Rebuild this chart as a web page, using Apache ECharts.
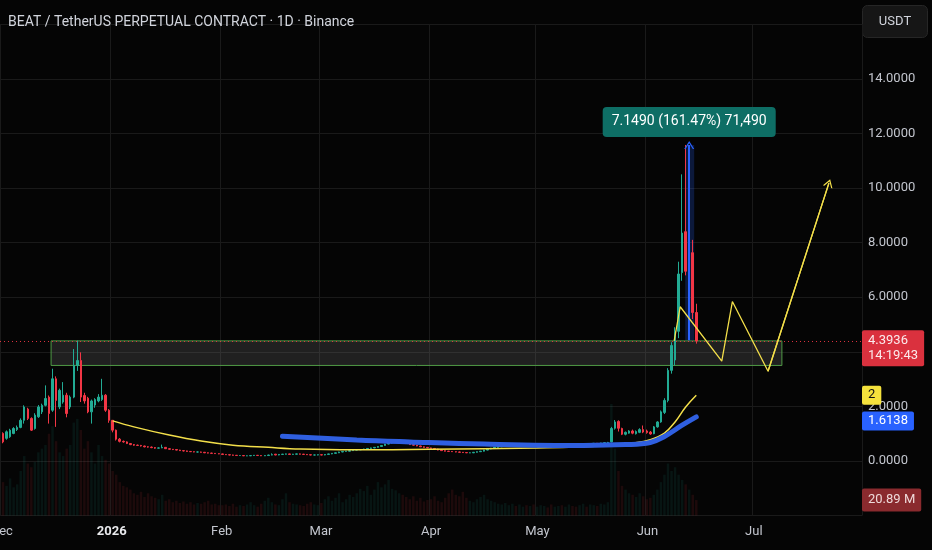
<!DOCTYPE html>
<html><head><meta charset="utf-8">
<script src="https://cdn.jsdelivr.net/npm/echarts@6/dist/echarts.min.js"></script>
<style>html,body{margin:0;padding:0;background:#050505;}#c{width:932px;height:550px;}</style>
</head><body><div id="c"></div>
<script>
// ---------- DATA ----------
const startDate = '2025-12-01';          // first daily candle
const axisDays = 243;                    // 2025-12-01 .. 2026-07-31 shown on the time scale
// daily candles [open, close, low, high]
const candles = [
 // Dec
 [1.01,0.70,0.65,1.05],[0.83,1.07,0.78,1.12],[0.89,1.13,0.85,1.18],[1.01,1.19,0.98,1.24],[1.15,1.23,1.10,1.30],
 [1.23,1.49,1.20,1.56],[1.49,1.98,1.37,2.04],[1.90,1.56,1.50,1.95],[1.56,1.13,1.10,1.60],[1.19,1.68,1.15,1.75],
 [1.62,1.98,1.58,2.05],[1.80,2.04,1.72,2.10],[2.04,2.29,2.00,2.77],[2.34,1.74,1.37,2.40],[1.86,3.01,1.80,3.38],
 [3.01,2.22,1.25,3.10],[1.98,2.59,1.90,2.65],[2.16,2.41,2.10,2.89],[2.41,1.74,1.60,2.50],[1.98,2.34,1.90,2.40],
 [2.34,3.50,2.30,4.10],[3.50,3.68,3.30,4.41],[3.68,2.34,2.16,3.98],[2.40,2.20,2.10,2.50],[2.30,1.80,1.75,2.35],
 [1.80,2.20,1.37,2.25],[2.05,2.25,1.95,2.30],[2.20,2.34,2.15,2.45],[2.25,2.41,2.20,3.01],[2.41,1.86,1.80,2.45],
 [1.86,1.49,1.40,1.90],
 // Jan
 [1.49,1.13,1.05,1.50],[1.13,0.80,0.75,1.15],[0.80,0.72,0.68,0.84],[0.72,0.70,0.67,0.75],[0.70,0.64,0.62,0.72],
 [0.64,0.60,0.58,0.66],[0.60,0.58,0.56,0.62],[0.58,0.57,0.55,0.60],[0.57,0.55,0.53,0.59],[0.55,0.52,0.50,0.56],
 [0.52,0.51,0.49,0.54],[0.51,0.49,0.47,0.53],[0.49,0.47,0.45,0.51],[0.47,0.48,0.46,0.50],[0.48,0.50,0.47,0.60],
 [0.50,0.45,0.44,0.51],[0.45,0.43,0.42,0.47],[0.43,0.42,0.40,0.44],[0.42,0.40,0.39,0.43],[0.40,0.38,0.37,0.41],
 [0.38,0.37,0.35,0.39],[0.37,0.35,0.34,0.38],[0.35,0.34,0.33,0.36],[0.34,0.33,0.32,0.35],[0.33,0.33,0.31,0.35],
 [0.33,0.32,0.31,0.34],[0.32,0.30,0.29,0.33],[0.30,0.29,0.28,0.31],[0.29,0.28,0.27,0.30],[0.28,0.27,0.26,0.29],
 [0.27,0.26,0.25,0.28],
 // Feb
 [0.26,0.24,0.23,0.27],[0.24,0.23,0.22,0.25],[0.23,0.22,0.21,0.24],[0.22,0.21,0.20,0.23],[0.21,0.20,0.19,0.22],
 [0.20,0.20,0.19,0.21],[0.20,0.19,0.18,0.21],[0.19,0.19,0.18,0.20],[0.19,0.20,0.18,0.21],[0.20,0.21,0.19,0.22],
 [0.21,0.20,0.19,0.22],[0.20,0.19,0.18,0.21],[0.19,0.20,0.18,0.21],[0.20,0.22,0.19,0.23],[0.22,0.23,0.21,0.28],
 [0.25,0.22,0.21,0.26],[0.22,0.24,0.21,0.25],[0.24,0.25,0.23,0.26],[0.25,0.26,0.24,0.27],[0.26,0.24,0.23,0.27],
 [0.24,0.25,0.23,0.26],[0.25,0.26,0.24,0.27],[0.26,0.25,0.24,0.27],[0.25,0.24,0.23,0.26],[0.24,0.23,0.22,0.25],
 [0.23,0.22,0.21,0.24],[0.22,0.22,0.21,0.23],[0.22,0.23,0.21,0.24],
 // Mar
 [0.23,0.22,0.21,0.24],[0.22,0.24,0.21,0.25],[0.24,0.26,0.23,0.27],[0.26,0.28,0.25,0.29],[0.28,0.30,0.27,0.31],
 [0.30,0.33,0.29,0.34],[0.33,0.35,0.32,0.36],[0.35,0.36,0.34,0.37],[0.36,0.38,0.35,0.39],[0.38,0.40,0.37,0.41],
 [0.40,0.41,0.39,0.42],[0.41,0.42,0.40,0.43],[0.42,0.44,0.41,0.45],[0.44,0.46,0.43,0.47],[0.46,0.48,0.45,0.49],
 [0.48,0.50,0.47,0.51],[0.50,0.53,0.49,0.54],[0.53,0.57,0.52,0.58],[0.57,0.62,0.56,0.63],[0.62,0.66,0.61,0.67],
 [0.66,0.68,0.64,0.70],[0.68,0.70,0.66,0.72],[0.70,0.72,0.68,0.74],[0.72,0.66,0.65,0.73],[0.66,0.64,0.62,0.67],
 [0.64,0.60,0.59,0.65],[0.60,0.58,0.57,0.61],[0.58,0.55,0.54,0.59],[0.55,0.52,0.51,0.56],[0.52,0.50,0.49,0.53],
 [0.50,0.48,0.47,0.51],
 // Apr
 [0.48,0.46,0.45,0.49],[0.46,0.44,0.43,0.47],[0.44,0.40,0.39,0.45],[0.40,0.38,0.37,0.41],[0.38,0.36,0.35,0.39],
 [0.36,0.35,0.34,0.37],[0.35,0.34,0.33,0.36],[0.34,0.33,0.32,0.35],[0.33,0.32,0.31,0.34],[0.32,0.31,0.30,0.33],
 [0.31,0.30,0.29,0.32],[0.30,0.30,0.29,0.31],[0.30,0.32,0.29,0.33],[0.32,0.34,0.31,0.35],[0.34,0.36,0.33,0.37],
 [0.36,0.40,0.35,0.41],[0.40,0.44,0.39,0.45],[0.44,0.47,0.43,0.48],[0.47,0.50,0.46,0.51],[0.50,0.52,0.49,0.53],
 [0.52,0.54,0.51,0.55],[0.54,0.55,0.53,0.56],[0.55,0.56,0.54,0.57],[0.56,0.58,0.55,0.59],[0.58,0.57,0.56,0.59],
 [0.57,0.58,0.56,0.59],[0.58,0.59,0.57,0.60],[0.59,0.58,0.57,0.60],[0.58,0.59,0.57,0.60],[0.59,0.58,0.57,0.60],
 // May
 [0.58,0.58,0.57,0.59],[0.58,0.59,0.57,0.60],[0.59,0.60,0.58,0.61],[0.60,0.59,0.58,0.61],[0.59,0.58,0.57,0.60],
 [0.58,0.60,0.57,0.61],[0.60,0.61,0.59,0.62],[0.61,0.60,0.59,0.62],[0.60,0.61,0.59,0.62],[0.61,0.62,0.60,0.63],
 [0.62,0.61,0.60,0.63],[0.61,0.60,0.59,0.62],[0.60,0.62,0.59,0.63],[0.62,0.63,0.61,0.64],[0.63,0.62,0.61,0.64],
 [0.62,0.64,0.61,0.65],[0.64,0.65,0.63,0.66],[0.65,0.64,0.63,0.66],[0.64,0.66,0.63,0.67],[0.66,0.67,0.65,0.68],
 [0.67,0.68,0.66,0.70],[0.70,1.19,0.68,1.25],[1.20,1.43,1.15,1.50],[1.45,1.20,1.08,1.49],[1.19,0.98,0.95,1.22],
 [0.98,1.05,0.94,1.08],[1.02,1.10,1.00,1.13],[1.10,1.02,0.98,1.15],[1.00,1.08,0.97,1.12],[1.05,1.15,1.02,1.20],
 [1.15,1.06,1.02,1.30],
 // Jun
 [1.10,1.04,1.00,1.15],[1.06,0.99,0.96,1.10],[1.00,1.25,0.98,1.28],[1.25,1.43,1.22,1.46],[1.43,1.80,1.40,1.85],
 [1.78,2.22,1.72,2.30],[2.22,3.32,2.15,3.40],[3.32,4.23,3.20,4.35],[3.70,4.75,3.50,4.90],[4.75,6.85,4.50,7.30],
 [6.90,8.35,6.60,10.50],[8.40,6.95,6.80,11.5765],[6.95,7.70,6.70,8.20],[7.63,5.44,5.20,8.10],[5.44,4.3936,4.30,5.76]
];
// daily volume, millions
const volumes = [
 45,40,50,38,42,60,80,70,65,72,85,90,95,110,120,100,85,80,90,95,125,130,115,90,100,85,70,95,80,75,70,
 60,55,45,40,38,35,30,28,32,25,30,26,24,22,28,20,22,18,20,17,19,16,18,15,17,16,18,20,15,16,14,
 14,15,13,16,12,14,13,15,18,14,12,16,20,24,18,15,14,22,30,18,16,15,14,13,16,18,15,14,
 17,22,26,20,24,30,18,22,28,25,30,36,33,40,28,35,45,38,42,48,36,34,30,28,25,22,26,20,24,19,21,
 22,26,20,18,24,30,35,28,26,32,24,20,18,22,25,28,22,20,18,16,15,17,14,16,13,15,12,14,13,15,
 12,14,13,11,15,12,13,14,12,15,13,12,14,16,12,15,14,13,16,15,18,
 150,90,60,40,35,30,28,25,30,26,22,24,28,35,45,55,70,60,65,55,48,42,35,28,20.89
];
const yellowMA = [
 ['2026-01-01',1.47],['2026-01-07',1.25],['2026-01-17',0.95],['2026-01-26',0.73],['2026-02-04',0.58],
 ['2026-02-14',0.50],['2026-02-23',0.44],['2026-03-10',0.41],['2026-04-01',0.43],['2026-05-01',0.48],
 ['2026-05-19',0.55],['2026-05-28',0.66],['2026-06-02',0.78],['2026-06-06',1.02],['2026-06-09',1.43],
 ['2026-06-12',1.98],['2026-06-15',2.41]
];
const blueMA = [
 ['2026-02-18',0.91],['2026-03-11',0.77],['2026-03-26',0.70],['2026-04-16',0.62],['2026-05-14',0.57],
 ['2026-05-26',0.60],['2026-06-02',0.68],['2026-06-06',0.90],['2026-06-11',1.31],['2026-06-15',1.6138]
];
const projection = [
 ['2026-06-08 18:00',4.40],['2026-06-10 11:00',5.65],['2026-06-22 05:00',3.66],
 ['2026-06-25 05:00',5.84],['2026-07-05 07:00',3.29],['2026-07-22 12:00',10.18]
];
const zone = {from:'2025-12-14 14:00', to:'2026-07-09 05:00', top:4.40, bottom:3.50};
const priceRange = {from:'2026-06-11 21:00', to:'2026-06-14 10:00', at:'2026-06-13', base:4.4275, top:11.5765};
const monthNames = ['Jan','Feb','Mar','Apr','May','Jun','Jul','Aug','Sep','Oct','Nov','Dec'];
const priceLabels = [0,2,6,8,10,12,14];
const yellowTag = '2';
const countdown = '14:19:43';
const volumeTag = '20.89 M';
const titleText = 'BEAT / TetherUS PERPETUAL CONTRACT · 1D · Binance';

// ---------- BUILD ----------
const DAY = 86400000;
const T = s => echarts.time.parse(s).getTime();
const t0 = T(startDate);
const pad2 = n => (n < 10 ? '0' : '') + n;
const dayKeys = [];
for (let i = 0; i < axisDays; i++) {
  const d = new Date(t0 + i * DAY + 3 * 3600000);
  dayKeys.push(d.getFullYear() + '-' + pad2(d.getMonth() + 1) + '-' + pad2(d.getDate()));
}
const UP = '#22ab94', DOWN = '#f23645';
const candleData = candles.map((r, i) => [t0 + i * DAY, r[0], r[1], r[2], r[3]]);
const volData = volumes.map((v, i) => ({
  value: [t0 + i * DAY, v * 1e6],
  itemStyle: {color: candles[i][1] >= candles[i][0] ? 'rgba(34,171,148,0.1)' : 'rgba(242,54,69,0.1)'}
}));
const lastClose = candles[candles.length - 1][1];
const lastVol = volumes[volumes.length - 1];
const diff = priceRange.top - priceRange.base;
const rangeText = diff.toFixed(4) + ' (' + (diff / priceRange.base * 100).toFixed(2) + '%) ' +
  Math.round(diff * 10000).toLocaleString('en-US');
const chevron = 'path://M0,10 L5,0 L10,10 L8.6,10 L5,2.8 L1.4,10 Z';
const FONT = 'Roboto';
const CLEAR = 'rgba(0,0,0,0)';
const isMonthStart = key => key.slice(8) === '01';
const tagLabel = (bg, fg, extra) => Object.assign({
  show: true, position: 'end', distance: 0, color: fg, backgroundColor: bg,
  padding: [3, 6], fontSize: 13, fontFamily: FONT, borderRadius: 2
}, extra || {});

const chart = echarts.init(document.getElementById('c'), null, {renderer: 'canvas'});
chart.setOption({
  animation: false,
  backgroundColor: '#050505',
  textStyle: {fontFamily: FONT},
  title: {text: titleText, left: 8, top: 15, padding: 0,
    textStyle: {color: '#d1d4dc', fontSize: 14, fontWeight: 'normal', fontFamily: FONT}},
  grid: {left: 0, right: 70, top: 24.2, bottom: 34.4, containLabel: false, outerBoundsMode: 'none'},
  xAxis: [{
    type: 'time', min: t0 - DAY / 2, max: t0 + (axisDays - 0.5) * DAY,
    axisLine: {show: false}, axisTick: {show: false}, axisLabel: {show: false}, splitLine: {show: false}
  }, {
    type: 'category', data: dayKeys, position: 'bottom', boundaryGap: true,
    axisLine: {show: false}, axisTick: {show: false},
    splitLine: {show: true, interval: (i, v) => isMonthStart(v), lineStyle: {color: '#1a1a1a', width: 1}},
    axisLabel: {
      interval: (i, v) => isMonthStart(v), margin: 10, color: '#c3c6ce', fontSize: 13, fontFamily: FONT,
      formatter: v => { const m = +v.slice(5, 7) - 1; return m === 0 ? '{y|' + v.slice(0, 4) + '}' : monthNames[m]; },
      rich: {y: {color: '#e8e9ec', fontWeight: 'bold', fontSize: 13, fontFamily: FONT}}
    }
  }],
  yAxis: [{
    type: 'value', position: 'right', min: -2, max: 16, interval: 2,
    axisLine: {show: false}, axisTick: {show: false},
    splitLine: {lineStyle: {color: '#1a1a1a', width: 1}},
    axisLabel: {margin: 6, color: '#c3c6ce', fontSize: 13, fontFamily: FONT,
      formatter: v => priceLabels.includes(v) ? v.toFixed(4) : ''}
  }, {
    type: 'value', min: 0, max: 660e6, show: false, splitLine: {show: false}
  }],
  graphic: [{
    type: 'group', right: 4, top: 5, children: [
      {type: 'rect', shape: {x: 0, y: 0, width: 65, height: 32, r: 5},
       style: {fill: '#161616', stroke: '#262626', lineWidth: 1}},
      {type: 'text', x: 32.5, y: 16, style: {text: 'USDT', fill: '#d1d4dc', fontSize: 13, fontFamily: FONT,
       align: 'center', verticalAlign: 'middle'}}
    ]
  }],
  series: [
    { type: 'bar', name: 'Volume', yAxisIndex: 1, data: volData, barWidth: 2.5, z: 1, silent: true,
      markLine: { silent: true, symbol: 'none', lineStyle: {color: CLEAR, width: 0},
        data: [{yAxis: lastVol * 1e6, label: tagLabel('#8a2a2e', '#eed9d9', {formatter: volumeTag, padding: [5, 6]})}] } },
    { type: 'candlestick', name: 'BEAT', data: candleData, barWidth: 2, z: 3,
      itemStyle: {color: UP, color0: DOWN, borderColor: UP, borderColor0: DOWN, borderWidth: 1},
      markArea: { silent: true,
        itemStyle: {color: 'rgba(140,140,140,0.2)', borderColor: '#4f9a45', borderWidth: 1},
        data: [[{coord: [T(zone.from), zone.top]}, {coord: [T(zone.to), zone.bottom]}]] },
      markLine: { silent: true, symbol: 'none',
        lineStyle: {color: DOWN, type: [1, 3], width: 1, opacity: 0.9},
        data: [{yAxis: lastClose, label: tagLabel(DOWN, '#ffffff',
          {formatter: lastClose.toFixed(4) + '\n' + countdown, lineHeight: 15, offset: [0, 7], padding: [3, 6, 3, 6]})}] } },
    { type: 'line', name: 'MA yellow', data: yellowMA.map(p => [T(p[0]), p[1]]), smooth: 0.4, symbol: 'none', z: 4,
      lineStyle: {color: '#f3df4a', width: 1.5},
      markLine: { silent: true, symbol: 'none', lineStyle: {color: CLEAR, width: 0},
        data: [{yAxis: yellowMA[yellowMA.length - 1][1], label: tagLabel('#f5e23c', '#111111', {formatter: yellowTag})}] } },
    { type: 'line', name: 'MA blue', data: blueMA.map(p => [T(p[0]), p[1]]), smooth: 0.4, symbol: 'none', z: 4,
      lineStyle: {color: '#2f5fe0', width: 5, cap: 'round'},
      markLine: { silent: true, symbol: 'none', lineStyle: {color: CLEAR, width: 0},
        data: [{yAxis: blueMA[blueMA.length - 1][1], label: tagLabel('#2962ff', '#ffffff',
          {formatter: blueMA[blueMA.length - 1][1].toFixed(4), offset: [0, 4]})}] } },
    { type: 'line', name: 'Projection', data: projection.map(p => [T(p[0]), p[1]]), symbol: 'none', z: 5,
      lineStyle: {color: '#f3df4a', width: 1.3},
      markLine: { silent: true, symbol: ['none', chevron], symbolSize: [10, 8],
        lineStyle: {color: '#f3df4a', width: 1.3, type: 'solid'}, label: {show: false},
        data: [[{coord: [T(projection[4][0]), projection[4][1]]}, {coord: [T(projection[5][0]), projection[5][1]]}]] } },
    { type: 'line', name: 'Price range', data: [[T(priceRange.at), priceRange.base], [T(priceRange.at), priceRange.top]],
      symbol: 'none', z: 6, lineStyle: {opacity: 0},
      markArea: { silent: true, itemStyle: {color: 'rgba(41,98,255,0.22)'},
        data: [[{coord: [T(priceRange.from), priceRange.base]}, {coord: [T(priceRange.to), priceRange.top]}]] },
      markLine: { silent: true, symbol: ['none', chevron], symbolSize: [10, 8],
        lineStyle: {color: '#2962ff', width: 2, type: 'solid'},
        label: {show: true, position: 'end', distance: 8, formatter: rangeText, color: '#ffffff',
          backgroundColor: '#0e6e65', padding: [8, 9], borderRadius: 4, fontSize: 14, fontFamily: FONT},
        data: [[{coord: [T(priceRange.at), priceRange.base]}, {coord: [T(priceRange.at), priceRange.top]}]] } }
  ]
});
</script></body></html>
